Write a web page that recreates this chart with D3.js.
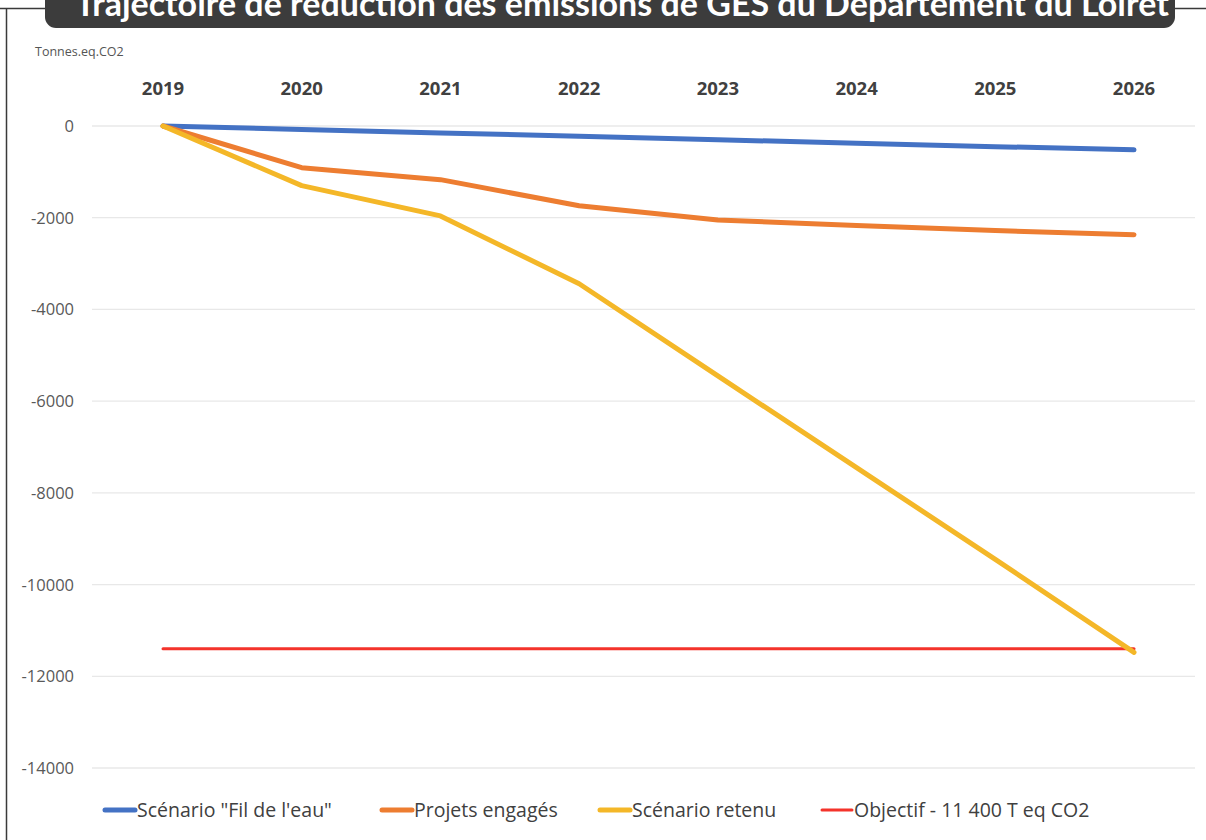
<!DOCTYPE html>
<html><head><meta charset="utf-8">
<script src="https://cdn.jsdelivr.net/npm/d3@7"></script>
<style>body{margin:0;background:#fff}svg{display:block}</style>
</head><body>
<svg id="c" width="1206" height="840"></svg>
<script>
const years = ["2019","2020","2021","2022","2023","2024","2025","2026"];
const filDeLeau = [0, -75, -150, -225, -300, -375, -450, -520];
const projetsEngages = [0, -910, -1170, -1740, -2050, -2170, -2280, -2370];
const scenarioRetenu = [0, -1300, -1960, -3440, -5450, -7450, -9450, -11480];
const objectif = [-11400, -11400, -11400, -11400, -11400, -11400, -11400, -11400];
const yTicks = [0, -2000, -4000, -6000, -8000, -10000, -12000, -14000];
const seriesNames = ["Scénario \"Fil de l'eau\"", "Projets engagés", "Scénario retenu", "Objectif - 11 400 T eq CO2"];
const seriesColors = ["#4472c4", "#ed7d31", "#f4b728", "#f4332b"];
const title = "Trajectoire de réduction des émissions de GES du Département du Loiret";
const yUnit = "Tonnes.eq.CO2";

const svg = d3.select("#c");
const x = d3.scalePoint().domain(years).range([163, 1134]);
const y = d3.scaleLinear().domain([0, -14000]).range([126, 768]);

// frame
svg.append("path").attr("d","M0,8.5 H1206 M6.5,8.5 V840").attr("stroke","#3a3a3a").attr("stroke-width",1.5).attr("fill","none");

// grid
svg.append("g").selectAll("line").data(yTicks).join("line")
  .attr("x1",92).attr("x2",1195).attr("y1",d=>y(d)).attr("y2",d=>y(d))
  .attr("stroke","#e8e8e8").attr("stroke-width",1.3);

// y labels
svg.append("g").selectAll("text").data(yTicks).join("text")
  .attr("x",74).attr("y",d=>y(d)).attr("dy","0.36em").attr("text-anchor","end")
  .attr("font-family","Open Sans").attr("font-size",16.5).attr("fill","#595959")
  .text(d=>d);

// x labels
svg.append("g").selectAll("text").data(years).join("text")
  .attr("x",d=>x(d)).attr("y",88).attr("dy","0.36em").attr("text-anchor","middle")
  .attr("font-family","Open Sans").attr("font-weight","bold").attr("font-size",18.5).attr("fill","#404040")
  .text(d=>d);

svg.append("text").attr("x",35).attr("y",56).attr("font-family","Open Sans").attr("font-size",12.5)
  .attr("fill","#555").text(yUnit);

const line = d3.line().x((d,i)=>x(years[i])).y(d=>y(d));
const allSeries = [filDeLeau, projetsEngages, scenarioRetenu, objectif];
const widths = [5, 5, 5, 3];
[3,0,1,2].forEach(k=>{
  svg.append("path").attr("d",line(allSeries[k])).attr("fill","none")
    .attr("stroke",seriesColors[k]).attr("stroke-width",widths[k])
    .attr("stroke-linejoin","round").attr("stroke-linecap","round");
});

// legend
const legX = [105, 382, 600, 822];
const lg = svg.append("g");
seriesNames.forEach((n,i)=>{
  lg.append("line").attr("x1",legX[i]).attr("x2",legX[i]+30).attr("y1",810).attr("y2",810)
    .attr("stroke",seriesColors[i]).attr("stroke-width",i===3?3:5).attr("stroke-linecap","round");
  lg.append("text").attr("x",legX[i]+32).attr("y",810).attr("dy","0.35em")
    .attr("font-family","Open Sans").attr("font-size",19.5).attr("fill","#404040").text(n);
});

// title box
svg.append("rect").attr("x",45).attr("y",-20).attr("width",1130).attr("height",48).attr("rx",11)
  .attr("fill","#3c3c3c");
svg.append("text").attr("x",622).attr("y",16).attr("text-anchor","middle")
  .attr("font-family","Lato").attr("font-weight","bold").attr("font-size",34).attr("fill","#fff")
  .text(title);
</script>
</body></html>
